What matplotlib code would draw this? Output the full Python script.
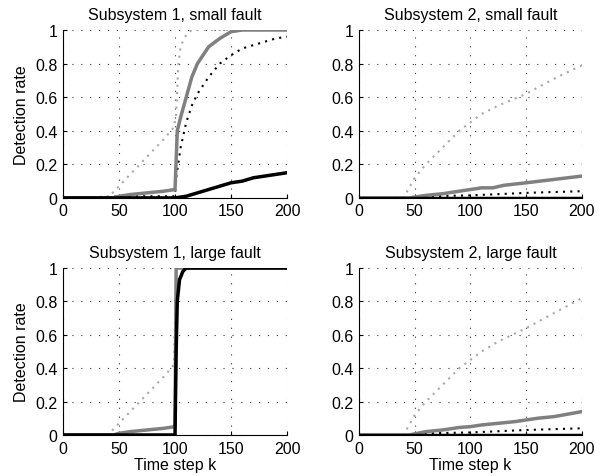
import numpy as np
import matplotlib
matplotlib.use("Agg")
import matplotlib.pyplot as plt

plt.rcParams['font.family'] = ['Liberation Sans', 'DejaVu Sans']

titles = ["Subsystem 1, small fault", "Subsystem 2, small fault",
          "Subsystem 1, large fault", "Subsystem 2, large fault"]

# subsystem 1, small fault
s1s_gray_dot_k = [0, 40, 50, 60, 70, 80, 90, 99, 101, 103, 105, 108, 111, 115, 200]
s1s_gray_dot_v = [0, 0, 0.07, 0.14, 0.21, 0.28, 0.35, 0.42, 0.5, 0.8, 0.9, 0.95, 0.98, 1.0, 1.0]
s1s_black_dot_k = [0, 60, 100, 101, 105, 110, 115, 120, 130, 140, 150, 160, 175, 190, 200]
s1s_black_dot_v = [0, 0.01, 0.01, 0.12, 0.3, 0.45, 0.55, 0.62, 0.72, 0.8, 0.85, 0.89, 0.92, 0.95, 0.96]
s1s_gray_k = [0, 45, 50, 60, 75, 90, 100, 102, 105, 110, 115, 120, 130, 140, 150, 160, 200]
s1s_gray_v = [0, 0, 0.01, 0.02, 0.03, 0.04, 0.05, 0.4, 0.48, 0.6, 0.72, 0.8, 0.9, 0.95, 0.99, 1.0, 1.0]
s1s_black_k = [0, 100, 110, 120, 130, 140, 150, 160, 170, 180, 190, 200]
s1s_black_v = [0, 0, 0.01, 0.03, 0.05, 0.07, 0.09, 0.1, 0.12, 0.13, 0.14, 0.15]

# subsystem 2, small fault
s2s_gray_dot_k = [0, 40, 50, 60, 75, 90, 100, 110, 125, 150, 175, 200]
s2s_gray_dot_v = [0, 0, 0.12, 0.2, 0.3, 0.4, 0.45, 0.5, 0.55, 0.62, 0.71, 0.79]
s2s_black_dot_k = [0, 50, 60, 100, 150, 200]
s2s_black_dot_v = [0, 0, 0.01, 0.015, 0.03, 0.04]
s2s_gray_k = [0, 45, 60, 75, 90, 100, 110, 120, 130, 150, 175, 200]
s2s_gray_v = [0, 0, 0.015, 0.025, 0.04, 0.05, 0.06, 0.06, 0.075, 0.09, 0.11, 0.13]
s2s_black_k = [0, 200]
s2s_black_v = [0, 0]

# subsystem 1, large fault
s1l_gray_dot_k = [0, 40, 50, 60, 70, 80, 90, 99, 101, 200]
s1l_gray_dot_v = [0, 0, 0.07, 0.14, 0.21, 0.28, 0.35, 0.42, 1.0, 1.0]
s1l_black_dot_k = [0, 100, 101, 102, 104, 107, 110, 200]
s1l_black_dot_v = [0, 0, 0.5, 0.8, 0.93, 0.98, 1.0, 1.0]
s1l_gray_k = [0, 45, 50, 60, 75, 90, 100, 101, 200]
s1l_gray_v = [0, 0, 0.01, 0.02, 0.03, 0.04, 0.05, 1.0, 1.0]
s1l_black_k = [0, 100, 101, 102, 104, 107, 110, 200]
s1l_black_v = [0, 0, 0.5, 0.8, 0.93, 0.98, 1.0, 1.0]

# subsystem 2, large fault
s2l_gray_dot_k = [0, 40, 50, 60, 75, 90, 100, 110, 125, 150, 175, 200]
s2l_gray_dot_v = [0, 0, 0.12, 0.2, 0.3, 0.4, 0.45, 0.5, 0.56, 0.64, 0.73, 0.82]
s2l_black_dot_k = [0, 50, 60, 100, 150, 200]
s2l_black_dot_v = [0, 0, 0.01, 0.015, 0.03, 0.04]
s2l_gray_k = [0, 45, 60, 75, 90, 100, 110, 125, 140, 150, 160, 175, 200]
s2l_gray_v = [0, 0, 0.02, 0.03, 0.045, 0.05, 0.06, 0.07, 0.08, 0.09, 0.1, 0.11, 0.14]
s2l_black_k = [0, 200]
s2l_black_v = [0, 0]

panels = [
    (s1s_gray_dot_k, s1s_gray_dot_v, s1s_black_dot_k, s1s_black_dot_v,
     s1s_gray_k, s1s_gray_v, s1s_black_k, s1s_black_v),
    (s2s_gray_dot_k, s2s_gray_dot_v, s2s_black_dot_k, s2s_black_dot_v,
     s2s_gray_k, s2s_gray_v, s2s_black_k, s2s_black_v),
    (s1l_gray_dot_k, s1l_gray_dot_v, s1l_black_dot_k, s1l_black_dot_v,
     s1l_gray_k, s1l_gray_v, s1l_black_k, s1l_black_v),
    (s2l_gray_dot_k, s2l_gray_dot_v, s2l_black_dot_k, s2l_black_dot_v,
     s2l_gray_k, s2l_gray_v, s2l_black_k, s2l_black_v),
]

fig = plt.figure(figsize=(6.09, 4.77), dpi=100)
positions = [[0.1034, 0.583, 0.368, 0.352], [0.5895, 0.583, 0.366, 0.352],
             [0.1034, 0.086, 0.368, 0.350], [0.5895, 0.086, 0.366, 0.350]]

fs = 11.5
for i, (pos, p) in enumerate(zip(positions, panels)):
    ax = fig.add_axes(pos)
    gdk, gdv, bdk, bdv, gk, gv, bk, bv = p
    ax.plot(gdk, gdv, color="#a8a8a8", lw=1.5, ls=(0, (1, 2.5)))
    ax.plot(bdk, bdv, color="black", lw=1.5, ls=(0, (1, 2.5)))
    ax.plot(gk, gv, color="#808080", lw=2.5)
    ax.plot(bk, bv, color="black", lw=2.5)
    ax.set_xlim(0, 200)
    ax.set_ylim(0, 1)
    ax.set_xticks([0, 50, 100, 150, 200])
    ax.set_yticks([0, 0.2, 0.4, 0.6, 0.8, 1])
    ax.set_yticklabels(["0", "0.2", "0.4", "0.6", "0.8", "1"])
    ax.grid(True, color="#333333", ls=(0, (1, 7)), lw=0.8)
    ax.spines["top"].set_visible(False)
    ax.spines["right"].set_visible(False)
    ax.tick_params(direction="in", length=3, labelsize=fs, pad=4)
    ax.set_title(titles[i], fontsize=fs, pad=8)
    if i % 2 == 0:
        ax.set_ylabel("Detection rate", fontsize=fs, labelpad=4)
    if i >= 2:
        ax.set_xlabel("Time step k", fontsize=fs, labelpad=1)

fig.savefig("out.png", dpi=100)
